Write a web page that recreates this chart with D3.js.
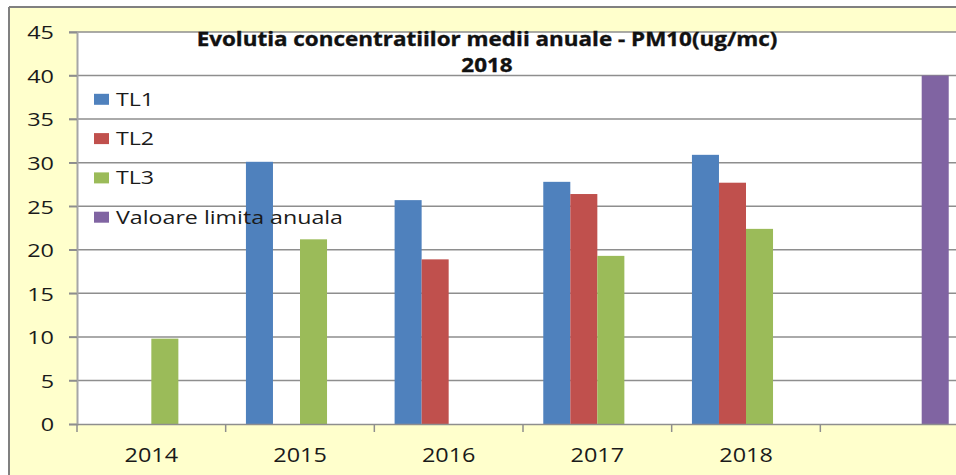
<!DOCTYPE html>
<html><head><meta charset="utf-8">
<script src="https://cdn.jsdelivr.net/npm/d3@7"></script>
<style>html,body{margin:0;padding:0;background:#fff;overflow:hidden}svg{display:block}</style>
</head><body>
<script>
const categories = ["2014","2015","2016","2017","2018",""];
const seriesNames = ["TL1","TL2","TL3","Valoare limita anuala"];
const TL1 = [null, 30.1, 25.7, 27.8, 30.9, null];
const TL2 = [null, null, 18.9, 26.4, 27.7, null];
const TL3 = [9.8, 21.2, null, 19.3, 22.4, null];
const VLA = [null, null, null, null, null, 40];
const yTicks = [0,5,10,15,20,25,30,35,40,45];
const titleLines = ["Evolutia concentratiilor medii anuale - PM10(ug/mc)", "2018"];

const colors = ["#4F81BD","#C0504D","#9BBB59","#8064A2"];
const seriesData = [TL1, TL2, TL3, VLA];

const W = 956, H = 475;
const svg = d3.select("body").append("svg").attr("width", W).attr("height", H);
const FONT = "'Open Sans', sans-serif";

function stretch(sel, f){
  sel.each(function(){ const l = this.getComputedTextLength(); d3.select(this).attr("textLength", l*f).attr("lengthAdjust","spacingAndGlyphs"); });
}

// outer chart background
svg.append("rect").attr("x",9).attr("y",7).attr("width",W).attr("height",H).attr("fill","#FFFFCC");
svg.append("line").attr("x1",9).attr("x2",W).attr("y1",7).attr("y2",7).attr("stroke","#808080").attr("stroke-width",2);
svg.append("line").attr("x1",9).attr("x2",9).attr("y1",7).attr("y2",H).attr("stroke","#808080").attr("stroke-width",2);

const plotL = 77, plotR = 969, plotT = 32, plotB = 424;
const x = d3.scaleBand().domain(categories.map((c,i)=>i)).range([plotL, plotR]);
const x1 = d3.scaleBand().domain(seriesNames).range([0, x.bandwidth()]).paddingInner(0).paddingOuter(0.75);
const y = d3.scaleLinear().domain([0,45]).range([plotB, plotT]);

svg.append("rect").attr("x",plotL).attr("y",plotT).attr("width",plotR-plotL).attr("height",plotB-plotT).attr("fill","#fff");

// gridlines
svg.append("g").selectAll("line").data(yTicks.filter(t=>t>0)).join("line")
  .attr("x1",plotL-8).attr("x2",plotR).attr("y1",d=>y(d)).attr("y2",d=>y(d))
  .attr("stroke","#8e8e8e").attr("stroke-width",1.5);

// bars
seriesNames.forEach((s,si)=>{
  svg.append("g").selectAll("rect").data(seriesData[si].map((v,i)=>({v,i})).filter(d=>d.v!=null)).join("rect")
    .attr("x",d=>x(d.i)+x1(s)).attr("width",x1.bandwidth())
    .attr("y",d=>y(d.v)).attr("height",d=>y(0)-y(d.v))
    .attr("fill",colors[si]);
});

// y axis
const yAxis = svg.append("g").attr("transform",`translate(${plotL},0)`)
  .call(d3.axisLeft(y).tickValues(yTicks).tickSize(8).tickPadding(15).tickFormat(d3.format("d")));
yAxis.select(".domain").attr("stroke","#a6a6a6").attr("stroke-width",2);
yAxis.selectAll(".tick line").attr("stroke","#8e8e8e").attr("stroke-width",1.5);
yAxis.selectAll("text").attr("font-family",FONT).attr("font-size",18).attr("fill","#1a1a1a").attr("dy","0.38em");
stretch(yAxis.selectAll("text"), 1.3);

// x axis
const xAxis = svg.append("g").attr("transform",`translate(0,${plotB})`)
  .call(d3.axisBottom(x).tickSize(0).tickPadding(0).tickFormat(i=>categories[i]));
xAxis.select(".domain").attr("stroke","#8e8e8e").attr("stroke-width",1.5);
xAxis.selectAll("text").attr("font-family",FONT).attr("font-size",20).attr("fill","#1a1a1a").attr("y",38).attr("dy",0);
stretch(xAxis.selectAll("text"), 1.17);
svg.append("g").selectAll("line").data(categories.map((c,i)=>i)).join("line")
  .attr("x1",d=>x(d)).attr("x2",d=>x(d)).attr("y1",plotB).attr("y2",plotB+8)
  .attr("stroke","#8e8e8e").attr("stroke-width",1.5);

// title
const title = svg.append("g");
titleLines.forEach((t,i)=>{
  title.append("text").attr("x",487).attr("y",45.5+i*26.3).attr("text-anchor","middle")
    .attr("font-family",FONT).attr("font-weight","bold").attr("font-size",19).attr("fill","#111")
    .attr("stroke","#111").attr("stroke-width",0.35).text(t);
});
stretch(title.selectAll("text"), 1.18);

// legend
const lg = svg.append("g");
seriesNames.forEach((s,i)=>{
  const cy = 99.3 + i*39.3;
  lg.append("rect").attr("x",94).attr("y",cy-5.5).attr("width",15).attr("height",11).attr("fill",colors[i]);
  lg.append("text").attr("x",116).attr("y",cy+6.5).attr("font-family",FONT).attr("font-size",19).attr("fill","#1a1a1a").text(s);
});
stretch(lg.selectAll("text"), 1.22);
</script>
</body></html>
